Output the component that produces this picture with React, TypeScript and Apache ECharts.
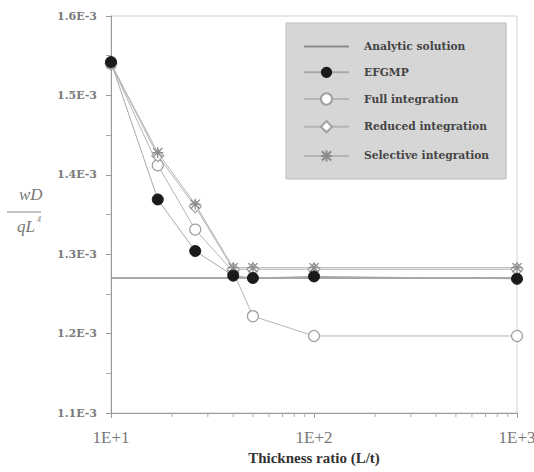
import React, { useEffect, useRef } from "react";
import * as echarts from "echarts";

const xValues = [10, 17, 26, 40, 50, 100, 1000];
const analytic = 1.27e-3;
const efgmp = [1.542e-3, 1.369e-3, 1.304e-3, 1.273e-3, 1.270e-3, 1.272e-3, 1.269e-3];
const fullInt = [1.540e-3, 1.412e-3, 1.331e-3, 1.278e-3, 1.222e-3, 1.197e-3, 1.197e-3];
const reducedInt = [1.540e-3, 1.424e-3, 1.360e-3, 1.281e-3, 1.281e-3, 1.281e-3, 1.281e-3];
const selectiveInt = [1.540e-3, 1.428e-3, 1.363e-3, 1.283e-3, 1.283e-3, 1.283e-3, 1.283e-3];
const minorTickValues = [20, 30, 40, 50, 60, 70, 80, 90, 200, 300, 400, 500, 600, 700, 800, 900];
const seriesNames = ["Analytic solution", "EFGMP", "Full integration", "Reduced integration", "Selective integration"];

const serif = "'Liberation Serif', 'DejaVu Serif', serif";
const wideSerif = "'DejaVu Serif', 'Liberation Serif', serif";
const asterisk = "path://M0 0L10 10M10 0L0 10M5 -1L5 11M-1 5L11 5";

const pairs = (ys: number[]) => xValues.map((x, i) => [x, ys[i]]);

export default function App() {
  const ref = useRef<HTMLDivElement>(null);
  useEffect(() => {
    document.body.style.margin = "0";
    if (!ref.current) return;
    const chart = echarts.init(ref.current, null, { renderer: "svg" });
    const lineStyle = { color: "#b5b5b5", width: 1 };
    chart.setOption({
      animation: false,
      backgroundColor: "#fff",
      grid: { left: 111, right: 17, top: 16, bottom: 59, show: true, borderColor: "#d0d0d0", borderWidth: 1, outerBoundsMode: "none" },
      xAxis: {
        type: "log",
        logBase: 10,
        min: 10,
        max: 1000,
        name: "Thickness ratio (L/t)",
        nameLocation: "middle",
        nameGap: 33,
        nameTextStyle: { fontFamily: serif, fontWeight: "bold", fontSize: 15, color: "#333" },
        axisLine: { lineStyle: { color: "#999" } },
        axisTick: { show: true, length: 5, lineStyle: { color: "#999" } },
        axisLabel: {
          fontFamily: serif,
          fontSize: 17,
          color: "#777",
          margin: 16,
          formatter: (v: number) => "1E+" + Math.round(Math.log10(v)),
        },
        splitLine: { show: false },
      },
      yAxis: {
        type: "value",
        min: 1.1e-3,
        max: 1.6e-3,
        interval: 1e-4,
        axisLine: { show: true, lineStyle: { color: "#999" } },
        axisTick: { show: true, length: 5, lineStyle: { color: "#999" } },
        minorTick: { show: true, splitNumber: 2, length: 5, lineStyle: { color: "#aaa" } },
        axisLabel: {
          fontFamily: wideSerif,
          fontSize: 11,
          fontWeight: "bold",
          color: "#7a7a7a",
          margin: 14,
          formatter: (v: number) => (v * 1000).toFixed(1) + "E-3",
        },
        splitLine: { show: false },
      },
      legend: {
        data: [
          { name: seriesNames[0], itemStyle: { color: "rgba(0,0,0,0)", borderColor: "rgba(0,0,0,0)", borderWidth: 0 } },
          ...seriesNames.slice(1),
        ],
        orient: "vertical",
        left: 286,
        top: 23,
        padding: [18, 17, 15, 17],
        itemWidth: 45,
        itemHeight: 14,
        itemGap: 14.5,
        backgroundColor: "#d6d6d6",
        borderColor: "#bdbdbd",
        borderWidth: 1,
        textStyle: { fontFamily: wideSerif, fontSize: 10.7, fontWeight: "bold", color: "#444", padding: [0, 0, 0, 10] },
      },
      series: [
        {
          name: "Analytic solution",
          type: "line",
          data: [[10, analytic], [1000, analytic]],
          symbol: "none",
          lineStyle: { color: "#8a8a8a", width: 1.5 },
          itemStyle: { color: "#8a8a8a" },
          z: 1,
        },
        {
          name: "Full integration",
          type: "line",
          data: pairs(fullInt),
          symbol: "circle",
          symbolSize: 11,
          lineStyle,
          itemStyle: { color: "#fff", borderColor: "#a0a0a0", borderWidth: 1.2 },
          z: 2,
        },
        {
          name: "Reduced integration",
          type: "line",
          data: pairs(reducedInt),
          symbol: "diamond",
          symbolSize: 12,
          lineStyle,
          itemStyle: { color: "#fff", borderColor: "#a0a0a0", borderWidth: 1.2 },
          z: 2,
        },
        {
          name: "Selective integration",
          type: "line",
          data: pairs(selectiveInt),
          symbol: asterisk,
          symbolSize: 11,
          lineStyle,
          itemStyle: { color: "none", borderColor: "#8c8c8c", borderWidth: 1.3 },
          z: 3,
        },
        {
          name: "EFGMP",
          type: "line",
          data: pairs(efgmp),
          symbol: "circle",
          symbolSize: 11,
          lineStyle: { color: "#a8a8a8", width: 1 },
          itemStyle: { color: "#1a1a1a", borderColor: "#1a1a1a" },
          z: 4,
        },
        {
          name: "minorTicks",
          type: "custom",
          silent: true,
          clip: false,
          data: minorTickValues.map((v) => [v, 1.1e-3]),
          renderItem: (_p: any, api: any) => {
            const pt = api.coord([api.value(0), api.value(1)]);
            return {
              type: "line",
              shape: { x1: pt[0], y1: pt[1], x2: pt[0], y2: pt[1] + 4 },
              style: { stroke: "#aaa", lineWidth: 1 },
            };
          },
          z: 5,
        },
      ],
      graphic: [
        {
          type: "text",
          left: 19,
          top: 186,
          style: { text: "wD", fontFamily: serif, fontStyle: "italic", fontSize: 17, fill: "#777" },
        },
        {
          type: "line",
          shape: { x1: 7, y1: 212, x2: 41, y2: 212 },
          style: { stroke: "#888", lineWidth: 1.2 },
        },
        {
          type: "text",
          left: 17,
          top: 218,
          style: { text: "qL", fontFamily: serif, fontStyle: "italic", fontSize: 17, fill: "#777" },
        },
        {
          type: "text",
          left: 37,
          top: 215,
          style: { text: "4", fontFamily: serif, fontStyle: "italic", fontSize: 8, fill: "#888" },
        },
      ],
    });
    return () => chart.dispose();
  }, []);
  return <div ref={ref} style={{ width: 534, height: 472 }} />;
}
